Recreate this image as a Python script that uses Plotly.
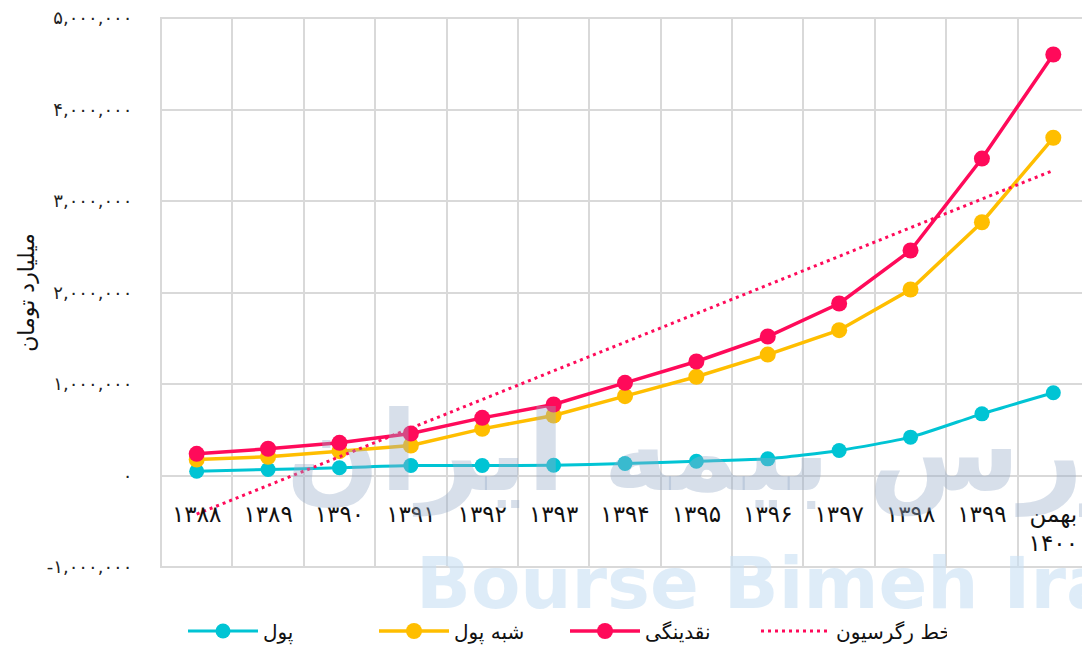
import numpy as np
import plotly.graph_objects as go

# ---------------- data ----------------
categories = ["۱۳۸۸", "۱۳۸۹", "۱۳۹۰", "۱۳۹۱", "۱۳۹۲", "۱۳۹۳", "۱۳۹۴",
              "۱۳۹۵", "۱۳۹۶", "۱۳۹۷", "۱۳۹۸", "۱۳۹۹", "بهمن<br>۱۴۰۰"]
pool = [47000, 66000, 84000, 109000, 109000, 112000, 131000,
        156000, 182000, 273000, 419000, 674000, 904000]
shebh_pool = [175000, 204000, 266000, 328000, 510000, 656000, 867000,
              1079000, 1322000, 1588000, 2033000, 2768000, 3691000]
naqdinegi = [237000, 292000, 357000, 459000, 630000, 776000, 1013000,
             1246000, 1519000, 1880000, 2459000, 3464000, 4601000]
series_names = ["پول", "شبه پول", "نقدینگی", "خط رگرسیون"]
ytick_vals = [-1000000, 0, 1000000, 2000000, 3000000, 4000000, 5000000]
ytick_text = ["-۱,۰۰۰,۰۰۰", "۰", "۱,۰۰۰,۰۰۰", "۲,۰۰۰,۰۰۰", "۳,۰۰۰,۰۰۰",
              "۴,۰۰۰,۰۰۰", "۵,۰۰۰,۰۰۰"]
y_title = "میلیارد تومان"

# linear trend line of نقدینگی (as in the source chart)
idx = np.arange(len(categories))
slope, intercept = np.polyfit(idx, naqdinegi, 1)
trend = slope * idx + intercept

RED = "#FF0A5A"
YEL = "#FFBE00"
CYAN = "#00C4D4"
GRID = "#D9D9D9"
FONT = "DejaVu Sans"
W, H = 1089, 645
ML, MT, MB = 161, 18, 78
PW = W - ML
PH = H - MT - MB

fig = go.Figure()
fig.add_trace(go.Scatter(x=categories, y=pool, name=series_names[0],
                         mode="lines+markers", line=dict(color=CYAN, width=3, shape="spline", smoothing=0.6),
                         marker=dict(size=15, color=CYAN)))
fig.add_trace(go.Scatter(x=categories, y=shebh_pool, name=series_names[1],
                         mode="lines+markers", line=dict(color=YEL, width=3.5),
                         marker=dict(size=16, color=YEL)))
fig.add_trace(go.Scatter(x=categories, y=naqdinegi, name=series_names[2],
                         mode="lines+markers", line=dict(color=RED, width=3.5),
                         marker=dict(size=16, color=RED)))
fig.add_trace(go.Scatter(x=categories, y=trend, name=series_names[3],
                         mode="lines", line=dict(color=RED, width=3, dash="3px,4px")))

# watermarks
fig.add_annotation(text="<b>بورس بیمه ایران</b>", xref="paper", yref="paper",
                   x=(740 - ML) / PW, y=(567 - 452) / PH, yanchor="middle", showarrow=False,
                   font=dict(family=FONT, size=110, color="rgba(150,170,200,0.38)"))
fig.add_annotation(text="<b>Bourse Bimeh Iran</b>", xref="paper", yref="paper",
                   x=(414 - ML) / PW, xanchor="left", y=(567 - 583) / PH, yanchor="middle",
                   showarrow=False,
                   font=dict(family=FONT, size=72, color="rgba(200,224,243,0.6)"))

# plot-area frame (grid border)
fig.add_shape(type="rect", xref="paper", yref="paper", x0=0, x1=1, y0=0, y1=1,
              line=dict(color=GRID, width=2), layer="below")

fig.update_layout(
    width=W, height=H,
    margin=dict(l=ML, r=0, t=MT, b=MB, autoexpand=False),
    paper_bgcolor="white", plot_bgcolor="white",
    font=dict(family=FONT, color="#222222"),
    showlegend=True,
    legend=dict(orientation="h", xref="paper", yref="paper",
                x=(183 - ML) / PW, y=(567 - 631) / PH, xanchor="left", yanchor="middle",
                font=dict(size=20, color="#111111"), traceorder="normal",
                itemwidth=70, entrywidth=106, entrywidthmode="pixels",
                bgcolor="rgba(0,0,0,0)"),
)
zero_frac = (0 - (-1000000)) / 6000000
fig.update_xaxes(type="category", range=[-0.5, 12.5], tickson="boundaries",
                 showgrid=True, gridcolor=GRID, gridwidth=2,
                 anchor="free", position=zero_frac, showline=False,
                 ticks="", ticklabelstandoff=22,
                 tickfont=dict(size=23, color="#111111"))
fig.update_yaxes(range=[-1000000, 5000000], tickvals=ytick_vals, ticktext=ytick_text,
                 showgrid=True, gridcolor=GRID, gridwidth=2, zeroline=False,
                 ticks="outside", ticklen=24, tickcolor="rgba(0,0,0,0)",
                 tickfont=dict(size=18, color="#222222"),
                 title=dict(text=y_title, font=dict(size=22, color="#111111"), standoff=6))

fig.write_html("out.html", config={"displayModeBar": False},
               post_script="document.body.style.margin='0';document.body.style.overflow='hidden';")
